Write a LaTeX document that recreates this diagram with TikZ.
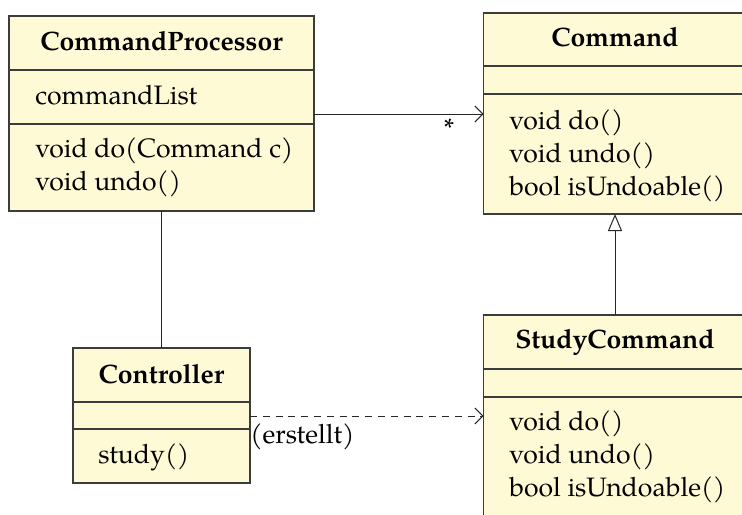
\documentclass[tikz,border=0pt]{standalone}
\usepackage{fontspec}
\setmainfont{texgyrepagella}[Extension=.otf, UprightFont=*-regular, BoldFont=*-bold, ItalicFont=*-italic, BoldItalicFont=*-bolditalic]
\usetikzlibrary{arrows.meta}
\definecolor{umlfill}{RGB}{255,250,214}
\definecolor{umlline}{RGB}{60,60,60}
\tikzset{
  classbox/.style={draw=umlline, fill=umlfill, line width=0.6pt, inner sep=0pt, outer sep=0pt},
  divider/.style={draw=umlline, line width=0.6pt},
  titletext/.style={font=\fontsize{13.3pt}{16.5pt}\selectfont\bfseries, inner sep=0pt, anchor=base},
  membertext/.style={font=\fontsize{13.3pt}{16.5pt}\selectfont, inner sep=0pt, anchor=base west},
  conn/.style={draw=black!85, line width=0.5pt},
  assoc/.style={conn, -{Straight Barb[length=4pt,width=8pt]}},
  gen/.style={conn, -{Triangle[open,length=8.5pt,width=7pt,fill=white]}},
  dep/.style={conn, dash pattern=on 3.5pt off 2.9pt, -{Straight Barb[length=4pt,width=8pt]}},
}
\begin{document}
\begin{tikzpicture}[x=0.5pt,y=-0.5pt]
\useasboundingbox (0,0) rectangle (742,514);
\clip (0,0) rectangle (742,514);
\fill[white] (0,0) rectangle (742,514);

% CommandProcessor
\node[classbox, minimum width=152.5pt, minimum height=97.5pt] (cp) at (161.5,113.5) {};
\draw[divider] (cp.west |- 0,70) -- (cp.east |- 0,70);
\draw[divider] (cp.west |- 0,124) -- (cp.east |- 0,124);
\node[titletext] (cpt) at (161.5,50) {CommandProcessor};
\node[membertext] (cpa) at (35,104) {commandList};
\node[membertext] (cpm1) at (35,157) {void do(Command c)};
\node[membertext] (cpm2) at (35,190) {void undo()};

% Command (cut off at the right edge)
\node[classbox, minimum width=140pt, minimum height=100.5pt] (cmd) at (623.5,113.5) {};
\draw[divider] (cmd.west |- 0,66) -- (cmd.east |- 0,66);
\draw[divider] (cmd.west |- 0,94) -- (cmd.east |- 0,94);
\node[titletext] (cmdt) at (615,46) {Command};
\node[membertext] (cmdm1) at (509,129.5) {void do()};
\node[membertext] (cmdm2) at (509,162.5) {void undo()};
\node[membertext] (cmdm3) at (509,195.5) {bool isUndoable()};

% Controller
\node[classbox, minimum width=88.5pt, minimum height=67.5pt] (ctrl) at (161.5,415.5) {};
\draw[divider] (ctrl.west |- 0,402) -- (ctrl.east |- 0,402);
\draw[divider] (ctrl.west |- 0,429) -- (ctrl.east |- 0,429);
\node[titletext] (ctrlt) at (161.5,383) {Controller};
\node[membertext] (ctrlm1) at (98,463) {study()};

% StudyCommand (cut off at the right and bottom edges)
\node[classbox, minimum width=140pt, minimum height=120pt] (sc) at (623.5,435) {};
\draw[divider] (sc.west |- 0,369) -- (sc.east |- 0,369);
\draw[divider] (sc.west |- 0,397) -- (sc.east |- 0,397);
\node[titletext] (sct) at (615,348) {StudyCommand};
\node[membertext] (scm1) at (509,430) {void do()};
\node[membertext] (scm2) at (509,463) {void undo()};
\node[membertext] (scm3) at (509,496) {bool isUndoable()};

% connectors
\draw[assoc] (cp.east |- 0,114) -- (cmd.west |- 0,114);
\node[font=\fontsize{13.3pt}{16.5pt}\selectfont, inner sep=0pt] (mult) at (449,128) {*};
\draw[conn] (cp.south) -- (ctrl.north);
\draw[gen] (sct |- sc.north) -- (sct |- cmd.south);
\draw[dep] (ctrl.east |- 0,416) -- (sc.west |- 0,416);
\node[membertext] (lbl) at (250,443) {(erstellt)};
\end{tikzpicture}
\end{document}
